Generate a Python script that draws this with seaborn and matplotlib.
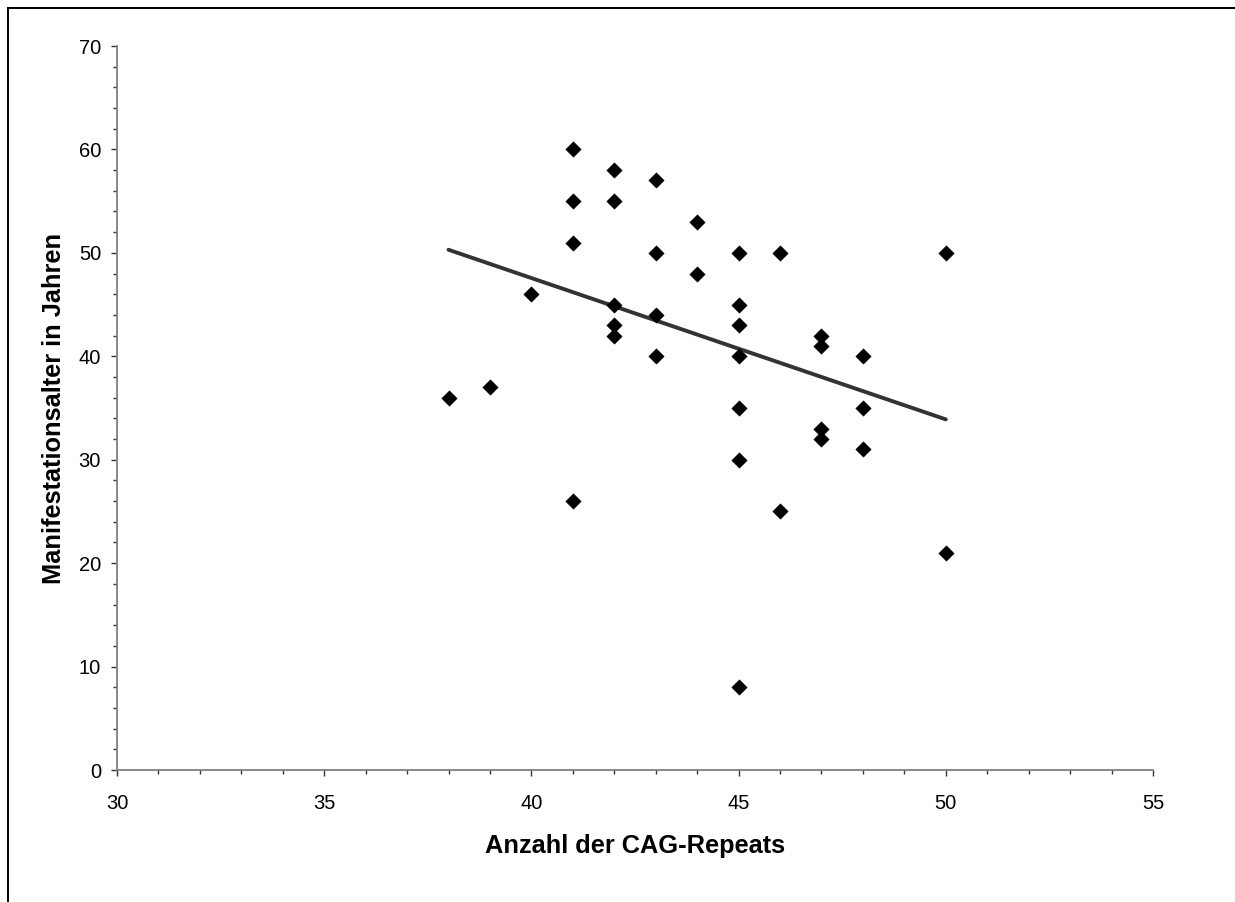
import matplotlib
matplotlib.use("Agg")
import matplotlib.pyplot as plt
from matplotlib.patches import Rectangle
from matplotlib.ticker import MultipleLocator
import seaborn as sns
import pandas as pd

# CAG repeat count per patient and age at onset (years)
cag_repeats = [38, 39, 40,
               41, 41, 41, 41,
               42, 42, 42, 42, 42,
               43, 43, 43, 43,
               44, 44,
               45, 45, 45, 45, 45, 45, 45,
               46, 46,
               47, 47, 47, 47,
               48, 48, 48,
               50, 50]
onset_age = [36, 37, 46,
             60, 55, 51, 26,
             58, 55, 45, 43, 42,
             57, 50, 44, 40,
             53, 48,
             50, 45, 43, 40, 35, 30, 8,
             50, 25,
             42, 41, 33, 32,
             40, 35, 31,
             50, 21]

# linear trend line
trend_x = [38, 50]
trend_y = [50.3, 33.9]

df = pd.DataFrame({"cag": cag_repeats, "age": onset_age})
trend = pd.DataFrame({"cag": trend_x, "age": trend_y})

sns.set_theme(style="white")
plt.rcParams["font.family"] = ["Liberation Sans", "DejaVu Sans"]
plt.rcParams["text.color"] = "black"
plt.rcParams["axes.labelcolor"] = "black"

fig = plt.figure(figsize=(12.35, 9.02), dpi=100)
ax = fig.add_axes([117 / 1235, 1 - 770 / 902, (1153 - 117) / 1235, (770 - 46) / 902])

sns.lineplot(data=trend, x="cag", y="age", ax=ax, color="#333333",
             linewidth=2.8, solid_capstyle="round", zorder=3)
sns.scatterplot(data=df, x="cag", y="age", ax=ax, marker="D", s=62,
                color="black", edgecolor="black", linewidth=0.3, zorder=4)

ax.set_xlim(30, 55)
ax.set_ylim(0, 70)
ax.xaxis.set_major_locator(MultipleLocator(5))
ax.xaxis.set_minor_locator(MultipleLocator(1))
ax.yaxis.set_major_locator(MultipleLocator(10))
ax.yaxis.set_minor_locator(MultipleLocator(2))

for side in ("top", "right"):
    ax.spines[side].set_visible(False)
for side in ("left", "bottom"):
    ax.spines[side].set_color("#7f7f7f")
    ax.spines[side].set_linewidth(1.3)

ax.tick_params(which="major", direction="out", length=4.5, width=1.0,
               color="#333333", labelsize=14.5, labelcolor="black",
               bottom=True, left=True)
ax.tick_params(axis="x", which="major", pad=13)
ax.tick_params(axis="y", which="major", pad=7)
ax.tick_params(which="minor", direction="out", length=2.8, width=1.0,
               color="#333333", bottom=True, left=True)

ax.set_xlabel("Anzahl der CAG-Repeats", fontsize=18.3, fontweight="bold",
              labelpad=15)
ax.set_ylabel("Manifestationsalter in Jahren", fontsize=18.3,
              fontweight="bold", labelpad=9)

fig.patches.append(Rectangle((8 / 1235, -0.1), 1.2, 1 - 8 / 902 + 0.1,
                             transform=fig.transFigure, fill=False,
                             edgecolor="black", linewidth=1.4))

fig.savefig("out.png", dpi=100)
